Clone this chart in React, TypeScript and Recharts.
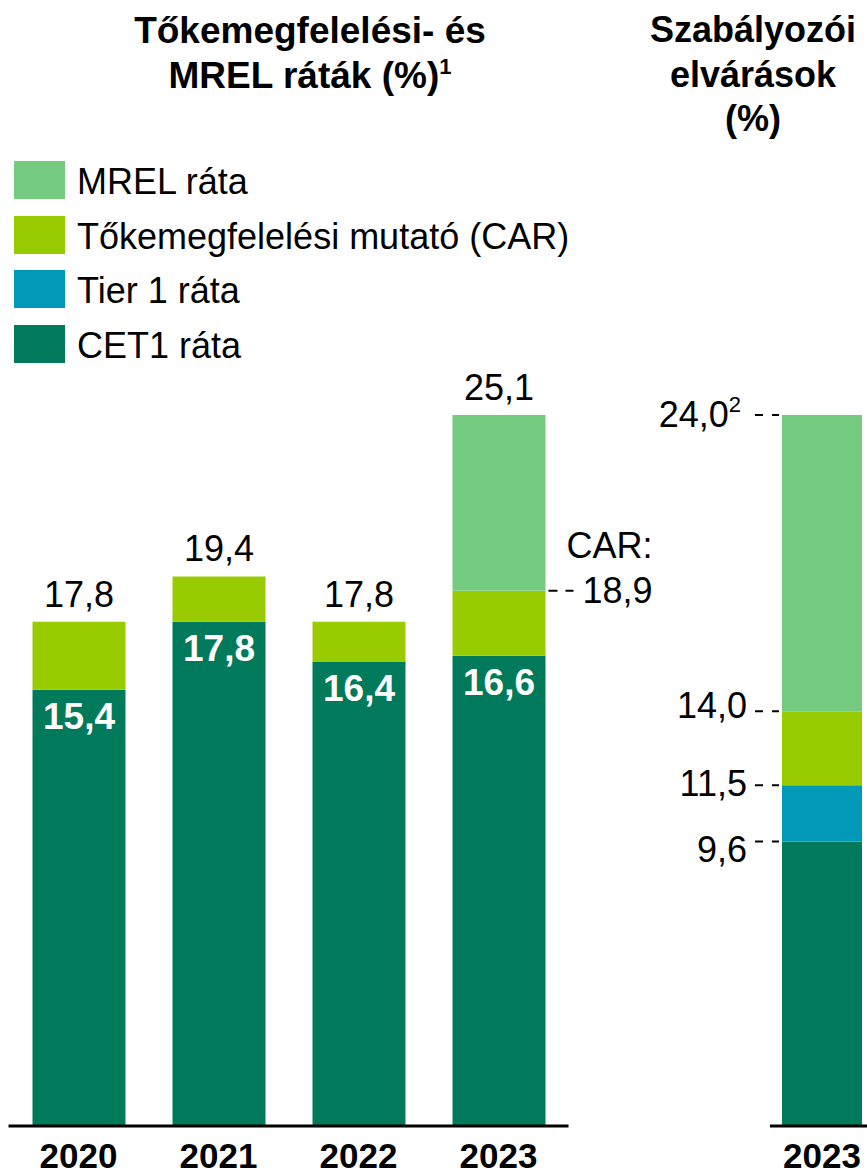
import React from "react";
import { BarChart, Bar, XAxis, YAxis, LabelList, Legend } from "recharts";

// Tőkemegfelelési- és MREL ráták (%)
const years = ["2020", "2021", "2022", "2023"];
const cet1Ratio = [15.4, 17.8, 16.4, 16.6];
const tier1Ratio = [15.4, 17.8, 16.4, 16.6];
const carRatio = [17.8, 19.4, 17.8, 18.9];
const mrelRatio: (number | null)[] = [null, null, null, 25.1];
const carNoteYear = "2023";

// Szabályozói elvárások (%)
const reqYear = "2023";
const reqCet1 = 9.6;
const reqTier1 = 11.5;
const reqCar = 14.0;
const reqMrel = 24.0;
const reqNotes = ["", "", "", "2"];

const seriesNames = ["MREL ráta", "Tőkemegfelelési mutató (CAR)", "Tier 1 ráta", "CET1 ráta"];
const seriesColors = ["#74CB80", "#99CC00", "#0099B8", "#007A5A"];

const fmt = (v: number | string) => Number(v).toFixed(1).replace(".", ",");

const leftData = years.map((year, i) => ({
  year,
  cet1: cet1Ratio[i],
  tier1: tier1Ratio[i] - cet1Ratio[i],
  car: carRatio[i] - tier1Ratio[i],
  mrel: mrelRatio[i] == null ? null : (mrelRatio[i] as number) - carRatio[i],
  carTop: mrelRatio[i] == null ? carRatio[i] : null,
  mrelTop: mrelRatio[i],
  carNote: year === carNoteYear ? carRatio[i] : null,
}));

const rightData = [
  {
    year: reqYear,
    cet1: reqCet1,
    tier1: reqTier1 - reqCet1,
    car: reqCar - reqTier1,
    mrel: reqMrel - reqCar,
    l0: reqCet1,
    l1: reqTier1,
    l2: reqCar,
    l3: reqMrel,
  },
];

const FONT = "'Liberation Sans', Arial, sans-serif";
const reqDy = [20, 11, 7, 12];

function LegendBox() {
  return (
    <div>
      {seriesNames.map((name, i) => (
        <div key={name} style={{ display: "flex", alignItems: "center", height: 38, marginBottom: 16.5 }}>
          <div style={{ width: 51, height: 38, background: seriesColors[i] }} />
          <span style={{ marginLeft: 12, fontSize: 36, lineHeight: "38px", position: "relative", top: 2, color: "#000", whiteSpace: "nowrap" }}>
            {name}
          </span>
        </div>
      ))}
    </div>
  );
}

const TopLabel = (props: any) => {
  const { viewBox, value } = props;
  if (value == null || !viewBox) return null;
  return (
    <text x={viewBox.x + viewBox.width / 2} y={viewBox.y - 15} textAnchor="middle" fontSize={36} fill="#000">
      {fmt(value)}
    </text>
  );
};

const CarNote = (props: any) => {
  const { viewBox, value } = props;
  if (value == null || !viewBox) return null;
  const x = viewBox.x + viewBox.width;
  const y = viewBox.y;
  return (
    <g>
      <line x1={x + 3} x2={x + 28} y1={y} y2={y} stroke="#000" strokeWidth={2} strokeDasharray="9 8" />
      <text x={x + 107} y={y - 33} textAnchor="end" fontSize={36} fill="#000">CAR:</text>
      <text x={x + 107} y={y + 12} textAnchor="end" fontSize={36} fill="#000">{fmt(value)}</text>
    </g>
  );
};

const reqLabel = (k: number) => (props: any) => {
  const { viewBox, value } = props;
  if (value == null || !viewBox) return null;
  const { x, y } = viewBox;
  const note = reqNotes[k];
  return (
    <g>
      <line x1={x - 27} x2={x - 3} y1={y} y2={y} stroke="#000" strokeWidth={2} strokeDasharray="8 9" />
      <text x={note ? x - 41 : x - 35} y={y + reqDy[k]} textAnchor="end" fontSize={36} fill="#000">
        {fmt(value)}
        {note && (
          <tspan dy={-15} fontSize={22}>
            {note}
          </tspan>
        )}
      </text>
    </g>
  );
};

const keys = ["cet1", "tier1", "car", "mrel"];
const colorOf = (k: string) => seriesColors[3 - keys.indexOf(k)];

export default function App() {
  return (
    <div
      style={{
        position: "absolute",
        left: 0,
        top: 0,
        width: 867,
        height: 1175,
        overflow: "hidden",
        background: "#fff",
        fontFamily: FONT,
        color: "#000",
      }}
    >
      <div style={{ position: "absolute", left: 110, top: 8, width: 400, textAlign: "center", fontSize: 37, fontWeight: 700, lineHeight: "45px" }}>
        Tőkemegfelelési- és
        <br />
        MREL ráták (%)
        <span style={{ fontSize: 22, position: "relative", top: -14 }}>1</span>
      </div>
      <div style={{ position: "absolute", left: 603, top: 8, width: 300, textAlign: "center", fontSize: 36, fontWeight: 700, lineHeight: "44.5px" }}>
        Szabályozói
        <br />
        elvárások
        <br />
        (%)
      </div>

      <div style={{ position: "absolute", left: 0, top: 0 }}>
        <BarChart width={660} height={1175} data={leftData} margin={{ top: 415, right: 91.5, left: 8.5, bottom: 0 }}>
          <XAxis
            dataKey="year"
            height={49}
            axisLine={{ stroke: "#000", strokeWidth: 3 }}
            tickLine={false}
            tickMargin={11}
            tick={{ fontSize: 35, fontWeight: 700, fill: "#000" }}
          />
          <YAxis hide domain={[0, 25.1]} />
          <Legend
            layout="vertical"
            align="center"
            verticalAlign="middle"
            wrapperStyle={{ left: 14, top: 161, width: 600 }}
            content={() => <LegendBox />}
          />
          {keys.map((k) => (
            <Bar key={k} dataKey={k} stackId="a" fill={colorOf(k)} barSize={93} isAnimationActive={false} name={k}>
              {k === "cet1" && (
                <LabelList dataKey="cet1" position="insideTop" offset={13} fill="#fff" fontSize={37} fontWeight={700} formatter={fmt} />
              )}
              {k === "car" && <LabelList dataKey="carNote" content={CarNote} />}
              {k === "car" && <LabelList dataKey="carTop" content={TopLabel} />}
              {k === "mrel" && <LabelList dataKey="mrelTop" content={TopLabel} />}
            </Bar>
          ))}
        </BarChart>
      </div>

      <div style={{ position: "absolute", left: 600, top: 0 }}>
        <BarChart width={300} height={1175} data={rightData} margin={{ top: 415, right: 26, left: 170, bottom: 0 }}>
          <XAxis
            dataKey="year"
            height={49}
            axisLine={{ stroke: "#000", strokeWidth: 3 }}
            tickLine={false}
            tickMargin={11}
            tick={{ fontSize: 35, fontWeight: 700, fill: "#000" }}
          />
          <YAxis hide domain={[0, 24]} />
          {keys.map((k, i) => (
            <Bar key={k} dataKey={k} stackId="r" fill={colorOf(k)} barSize={80} isAnimationActive={false}>
              <LabelList dataKey={`l${i}`} content={reqLabel(i)} />
            </Bar>
          ))}
        </BarChart>
      </div>
    </div>
  );
}
